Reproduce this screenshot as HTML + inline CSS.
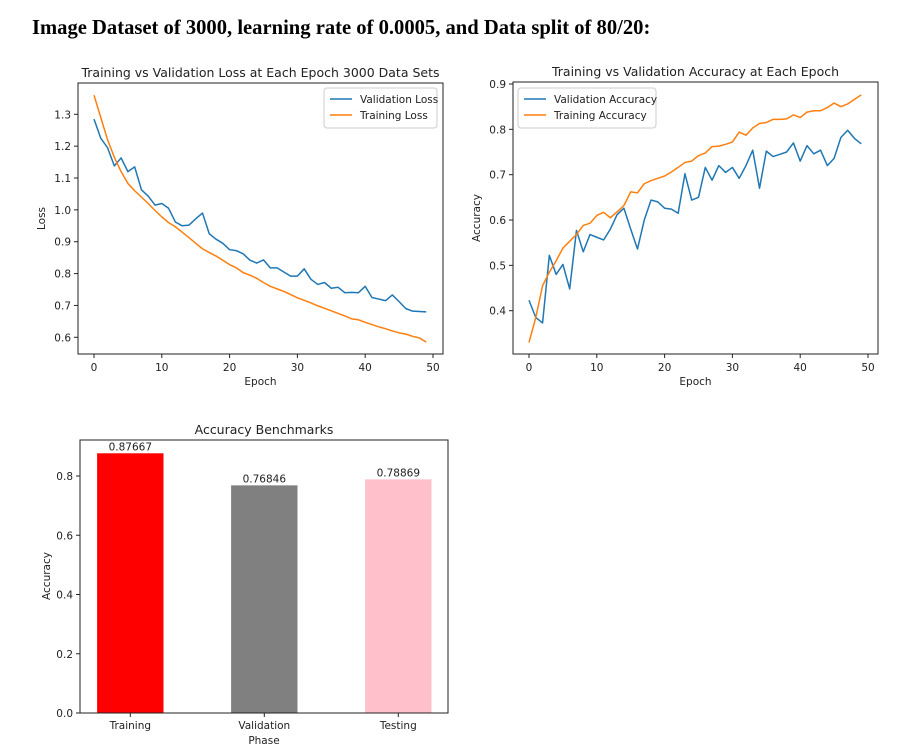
<!DOCTYPE html>
<html><head><meta charset="utf-8">
<style>
body{margin:0;background:#fff;width:924px;height:751px;overflow:hidden}
svg{position:absolute;left:0;top:0}
text{font-family:"DejaVu Sans","Liberation Sans",sans-serif;fill:#222}
</style></head>
<body>
<svg id="s" width="924" height="751">
<text x="32" y="34" style="font-family:'Liberation Serif',serif;font-weight:bold;font-size:20.6px;fill:#000">Image Dataset of 3000, learning rate of 0.0005, and Data split of 80/20:</text>
</svg>
<script>
const epochs = Array.from({length:50},(_, i)=>i);
const valLoss=[1.285,1.225,1.195,1.138,1.163,1.12,1.135,1.063,1.043,1.015,1.02,1.005,0.962,0.95,0.952,0.972,0.99,0.925,0.908,0.895,0.875,0.872,0.862,0.842,0.833,0.843,0.818,0.818,0.805,0.792,0.792,0.815,0.782,0.766,0.772,0.754,0.757,0.74,0.741,0.74,0.76,0.725,0.72,0.715,0.733,0.712,0.69,0.682,0.681,0.68];
const trainLoss=[1.36,1.29,1.22,1.165,1.12,1.083,1.06,1.04,1.02,0.998,0.978,0.96,0.947,0.93,0.913,0.895,0.878,0.866,0.855,0.842,0.828,0.818,0.803,0.795,0.785,0.772,0.76,0.752,0.744,0.734,0.724,0.716,0.708,0.699,0.691,0.683,0.675,0.667,0.658,0.655,0.647,0.64,0.633,0.627,0.62,0.614,0.61,0.603,0.598,0.585];
const valAcc=[0.423,0.385,0.373,0.522,0.48,0.502,0.448,0.577,0.53,0.568,0.562,0.556,0.58,0.612,0.626,0.58,0.536,0.6,0.644,0.64,0.626,0.624,0.615,0.702,0.644,0.65,0.716,0.688,0.72,0.705,0.716,0.692,0.72,0.754,0.67,0.752,0.74,0.745,0.75,0.77,0.73,0.764,0.746,0.754,0.72,0.736,0.782,0.798,0.78,0.768];
const trainAcc=[0.33,0.385,0.455,0.485,0.51,0.538,0.553,0.568,0.588,0.593,0.61,0.617,0.605,0.618,0.632,0.662,0.66,0.68,0.687,0.692,0.697,0.706,0.716,0.727,0.73,0.742,0.748,0.762,0.763,0.767,0.772,0.794,0.787,0.803,0.813,0.815,0.822,0.822,0.823,0.832,0.826,0.838,0.841,0.841,0.848,0.858,0.85,0.856,0.866,0.876];
const xTicks=[0,10,20,30,40,50];
const lossTicks=[0.6,0.7,0.8,0.9,1.0,1.1,1.2,1.3];
const accTicks=[0.4,0.5,0.6,0.7,0.8,0.9];
const barCats=["Training","Validation","Testing"];
const barVals=[0.87667,0.76846,0.78869];
const barLabels=["0.87667","0.76846","0.78869"];
const barTicks=[0.0,0.2,0.4,0.6,0.8];

const NS="http://www.w3.org/2000/svg";
const svg=document.getElementById('s');
function el(tag,attrs,parent,txt){const e=document.createElementNS(NS,tag);for(const k in attrs)e.setAttribute(k,attrs[k]);if(txt!==undefined)e.textContent=txt;(parent||svg).appendChild(e);return e;}
function lin(d0,d1,r0,r1){return v=>r0+(v-d0)*(r1-r0)/(d1-d0);}

function lineChart(cfg){
  const g=el('g',{});
  
  
  const x=lin(0,50,cfg.x0,cfg.x50), y=lin(cfg.ya,cfg.yb,cfg.pya,cfg.pyb);
  const b=cfg.box;
  const t=el('text',{x:(b[0]+b[2])/2,y:b[1]-6,'text-anchor':'middle','font-size':'12.5'},g,cfg.title);
  
  cfg.ticksY.forEach(v=>{const py=y(v);
    el('line',{x1:b[0]-4,x2:b[0],y1:py,y2:py,stroke:'#222'},g);
    const tl=el('text',{x:b[0]-7,y:py+4,'text-anchor':'end','font-size':'10.5'},g,v.toFixed(1));
    });
  xTicks.forEach(v=>{const px=x(v);
    el('line',{x1:px,x2:px,y1:b[3],y2:b[3]+4,stroke:'#222'},g);
    const tl=el('text',{x:px,y:b[3]+17,'text-anchor':'middle','font-size':'10.5'},g,v);
    });
  const xl=el('text',{x:(b[0]+b[2])/2,y:b[3]+31,'text-anchor':'middle','font-size':'10.5'},g,'Epoch');
  
  const yc=(b[1]+b[3])/2;
  const yl=el('text',{x:b[0]-33,y:yc,'text-anchor':'middle','font-size':'10.5',transform:`rotate(-90 ${b[0]-33} ${yc})`},g,cfg.ylabel);
  
  cfg.series.forEach(s=>{
    const p=el('polyline',{points:s.data.map((v,i)=>x(epochs[i])+','+y(v)).join(' '),fill:'none',stroke:s.color,'stroke-width':1.5,'stroke-linejoin':'round'},g);
    
  });
  const r=el('rect',{x:b[0],y:b[1],width:b[2]-b[0],height:b[3]-b[1],fill:'none',stroke:'#222','stroke-width':1},g);
  
  const L=cfg.legend;
  const lg=el('g',{},g);
  
  el('rect',{x:L[0],y:L[1],width:L[2],height:40,rx:3,fill:'#fff',stroke:'#ccc'},lg);
  cfg.series.forEach((s,i)=>{const ly=L[1]+11+i*16;
    el('line',{x1:L[0]+6,x2:L[0]+28,y1:ly,y2:ly,stroke:s.color,'stroke-width':1.5},lg);
    const lt=el('text',{x:L[0]+36,y:ly+4,'font-size':'10.5'},lg,s.label);
    });
}
lineChart({name:'loss-chart',box:[78,83,443,354],x0:94,x50:433,ya:1.3,yb:0.6,pya:114.3,pyb:337.3,ticksY:lossTicks,
  title:'Training vs Validation Loss at Each Epoch 3000 Data Sets',ylabel:'Loss',legend:[324,88,113],
  series:[{name:'validation-loss-line',label:'Validation Loss',data:valLoss,color:'#1f77b4'},{name:'training-loss-line',label:'Training Loss',data:trainLoss,color:'#ff7f0e'}]});
lineChart({name:'accuracy-chart',box:[513,82,878,354],x0:529,x50:868,ya:0.9,yb:0.4,pya:84,pyb:310.7,ticksY:accTicks,
  title:'Training vs Validation Accuracy at Each Epoch',ylabel:'Accuracy',legend:[518,88,138],
  series:[{name:'validation-accuracy-line',label:'Validation Accuracy',data:valAcc,color:'#1f77b4'},{name:'training-accuracy-line',label:'Training Accuracy',data:trainAcc,color:'#ff7f0e'}]});

// bar chart
(function(){
  const g=el('g',{});
  
  const b=[80,440,448,713];
  const y=lin(0,0.8,713,476);
  const cx=i=>130.3+i*134;
  const colors=['#ff0000','#808080','#ffc0cb'];
  const t=el('text',{x:264,y:434,'text-anchor':'middle','font-size':'12.5'},g,'Accuracy Benchmarks');
  
  barVals.forEach((v,i)=>{
    const r=el('rect',{x:cx(i)-33.2,y:y(v),width:66.4,height:y(0)-y(v),fill:colors[i]},g);
    
    const vl=el('text',{x:cx(i),y:y(v)-3,'text-anchor':'middle','font-size':'10.5'},g,barLabels[i]);
    
    el('line',{x1:cx(i),x2:cx(i),y1:b[3],y2:b[3]+4,stroke:'#222'},g);
    const cl=el('text',{x:cx(i),y:b[3]+16,'text-anchor':'middle','font-size':'10.5'},g,barCats[i]);
    
  });
  barTicks.forEach(v=>{const py=y(v);
    el('line',{x1:b[0]-4,x2:b[0],y1:py,y2:py,stroke:'#222'},g);
    const tl=el('text',{x:b[0]-7,y:py+4,'text-anchor':'end','font-size':'10.5'},g,v.toFixed(1));
    });
  const xl=el('text',{x:264,y:744,'text-anchor':'middle','font-size':'10.5'},g,'Phase');
  
  const yl=el('text',{x:50,y:576,'text-anchor':'middle','font-size':'10.5',transform:'rotate(-90 50 576)'},g,'Accuracy');
  
  const r=el('rect',{x:b[0],y:b[1],width:b[2]-b[0],height:b[3]-b[1],fill:'none',stroke:'#222'},g);
  
})();
</script>
</body></html>
